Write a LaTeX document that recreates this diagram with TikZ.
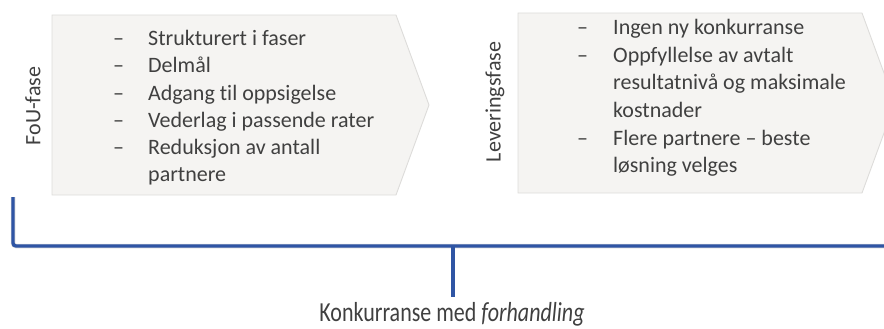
\documentclass[tikz,border=0pt]{standalone}
\usepackage{fontspec}
\setmainfont[Ligatures=NoCommon]{Carlito}
\definecolor{textgray}{HTML}{404040}
\definecolor{boxfill}{HTML}{F5F4F2}
\definecolor{boxline}{HTML}{DDDCDA}
\definecolor{braceblue}{HTML}{2F55A4}
\tikzset{
  chevron/.style={fill=boxfill, draw=boxline, line width=0.9pt, line join=miter},
  txt/.style={anchor=base west, inner sep=0pt, text=textgray, font=\fontsize{22}{27}\selectfont},
  dashmark/.style={anchor=base west, inner sep=0pt, text=textgray, font=\fontsize{22}{27}\selectfont},
  phase/.style={inner sep=0pt, text=textgray, rotate=90, font=\fontsize{22}{27}\selectfont},
  bracestyle/.style={draw=braceblue, line width=3.3pt, rounded corners=3pt},
  braceshadow/.style={draw=black!45, opacity=0.35, line width=4.5pt, rounded corners=3pt},
}
\begin{document}
\begin{tikzpicture}[x=1pt,y=-1pt]
\useasboundingbox (0,0) rectangle (884,329);
% chevrons
\draw[chevron] (52,15) -- (396,15) -- (429,105) -- (396,195) -- (52,195) -- cycle;
\draw[chevron] (518,13) -- (862,13) -- (895,103) -- (862,193) -- (518,193) -- cycle;
% phase labels
\node[phase] (fou) at (33,106) {FoU-fase};
\node[phase] (lev) at (495,102) {Leveringsfase};
% left list
\node[dashmark] (ld1) at (113,46) {–};
\node[txt] (lt1) at (148,46) {Strukturert i faser};
\node[dashmark] (ld2) at (113,73) {–};
\node[txt] (lt2) at (148,73) {Delmål};
\node[dashmark] (ld3) at (113,100) {–};
\node[txt] (lt3) at (148,100) {Adgang til oppsigelse};
\node[dashmark] (ld4) at (113,127) {–};
\node[txt] (lt4) at (148,127) {Vederlag i passende rater};
\node[dashmark] (ld5) at (113,154) {–};
\node[txt] (lt5) at (148,154) {Reduksjon av antall};
\node[txt] (lt6) at (148,181) {partnere};
% right list
\node[dashmark] (rd1) at (577,35) {–};
\node[txt] (rt1) at (613,35) {Ingen ny konkurranse};
\node[dashmark] (rd2) at (577,62.5) {–};
\node[txt] (rt2) at (613,62.5) {Oppfyllelse av avtalt};
\node[txt] (rt3) at (613,90) {resultatnivå og maksimale};
\node[txt] (rt4) at (613,117.5) {kostnader};
\node[dashmark] (rd5) at (577,145) {–};
\node[txt] (rt5) at (613,145) {Flere partnere – beste};
\node[txt] (rt6) at (613,172.5) {løsning velges};
% brace
\coordinate (bTL) at (13,197);
\coordinate (bR) at (895,246);
\coordinate (bC) at (453,246);
\coordinate (bTip) at (453,297);
\begin{scope}[shift={(1.2,2.2)}]
\draw[braceshadow] (bTL) |- (bR);
\draw[braceshadow] (bC) -- (bTip);
\end{scope}
\draw[bracestyle] (bTL) |- (bR);
\draw[bracestyle] (bC) -- (bTip);
% label
\node[inner sep=0pt, anchor=base, text=textgray, font=\fontsize{22}{27}\selectfont, yscale=1.25] (lab) at (452,321) {Konkurranse med \textit{forhandling}};
\end{tikzpicture}
\end{document}
